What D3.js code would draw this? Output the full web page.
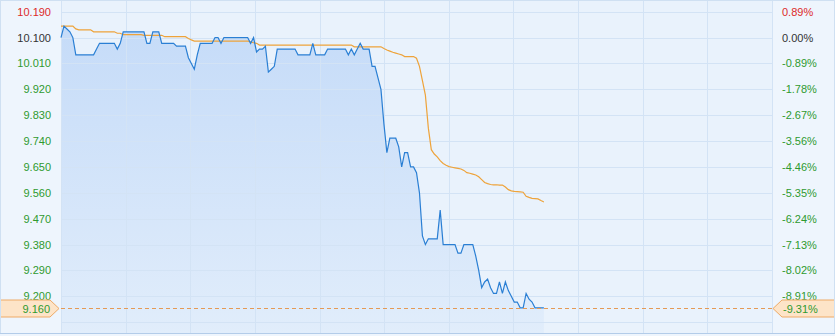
<!DOCTYPE html>
<html>
<head>
<meta charset="utf-8">
<script src="https://cdn.jsdelivr.net/npm/d3@7"></script>
<style>
    body { margin: 0; background: #eef5fd; }
    svg { display: block; font-family: "Liberation Sans", Arial, sans-serif; }
</style>
</head>
<body>
<svg id="chart" width="835" height="336"></svg>
<script>
// --- data ---
const preClose = 10.10;
const limitDown = 9.16;
const limitLabel = "9.160";
const limitPctLabel = "-9.31%";
const totalMinutes = 240;

const priceTicks = [10.19, 10.10, 10.01, 9.92, 9.83, 9.74, 9.65, 9.56, 9.47, 9.38, 9.29, 9.20];
const priceLabels = ["10.190", "10.100", "10.010", "9.920", "9.830", "9.740", "9.650", "9.560", "9.470", "9.380", "9.290", "9.200"];
const pctLabels = ["0.89%", "0.00%", "-0.89%", "-1.78%", "-2.67%", "-3.56%", "-4.46%", "-5.35%", "-6.24%", "-7.13%", "-8.02%", "-8.91%"];
const priceMin = 9.11;

// minute prices
const prices = [
    10.10, 10.14, 10.13, 10.12, 10.10, 10.04, 10.04, 10.04, 10.04, 10.04,
    10.04, 10.04, 10.06, 10.08, 10.08, 10.08, 10.08, 10.08, 10.08, 10.06,
    10.08, 10.12, 10.12, 10.12, 10.12, 10.12, 10.12, 10.12, 10.12, 10.08,
    10.08, 10.12, 10.12, 10.12, 10.08, 10.08, 10.08, 10.08, 10.08, 10.07,
    10.07, 10.07, 10.07, 10.03, 10.01, 9.99, 10.04, 10.08, 10.08, 10.08,
    10.08, 10.08, 10.10, 10.10, 10.08, 10.10, 10.10, 10.10, 10.10, 10.10,
    10.10, 10.10, 10.10, 10.10, 10.08, 10.10, 10.05, 10.06, 10.06, 10.07,
    9.98, 9.99, 10.00, 10.06, 10.06, 10.06, 10.06, 10.06, 10.06, 10.06,
    10.04, 10.04, 10.04, 10.04, 10.04, 10.08, 10.04, 10.04, 10.04, 10.04,
    10.06, 10.06, 10.06, 10.06, 10.06, 10.06, 10.06, 10.04, 10.06, 10.04,
    10.06, 10.08, 10.06, 10.06, 10.06, 10.00, 10.00, 9.96, 9.92, 9.80,
    9.70, 9.75, 9.75, 9.75, 9.72, 9.65, 9.70, 9.70, 9.65, 9.65,
    9.63, 9.56, 9.41, 9.38, 9.40, 9.40, 9.40, 9.40, 9.50, 9.38,
    9.38, 9.38, 9.38, 9.38, 9.35, 9.35, 9.38, 9.38, 9.38, 9.38,
    9.34, 9.29, 9.23, 9.25, 9.26, 9.23, 9.21, 9.21, 9.25, 9.21,
    9.25, 9.22, 9.20, 9.18, 9.18, 9.16, 9.16, 9.21, 9.19, 9.18,
    9.16, 9.16, 9.16, 9.16
];

// average price line
const avgPrices = [
    10.14, 10.14, 10.14, 10.14, 10.14, 10.13, 10.127, 10.127, 10.127, 10.127,
    10.127, 10.12, 10.12, 10.12, 10.12, 10.12, 10.12, 10.12, 10.12, 10.115,
    10.115, 10.11, 10.11, 10.11, 10.11, 10.11, 10.11, 10.11, 10.108, 10.108,
    10.108, 10.108, 10.108, 10.108, 10.108, 10.103, 10.103, 10.103, 10.103, 10.103,
    10.103, 10.103, 10.103, 10.097, 10.092, 10.088, 10.088, 10.088, 10.088, 10.088,
    10.088, 10.088, 10.088, 10.088, 10.088, 10.088, 10.088, 10.088, 10.088, 10.088,
    10.088, 10.088, 10.088, 10.088, 10.085, 10.082, 10.080, 10.074, 10.074, 10.074,
    10.074, 10.074, 10.074, 10.074, 10.074, 10.074, 10.074, 10.074, 10.074, 10.074,
    10.074, 10.074, 10.074, 10.074, 10.074, 10.074, 10.074, 10.074, 10.074, 10.074,
    10.074, 10.074, 10.074, 10.074, 10.074, 10.074, 10.074, 10.074, 10.074, 10.068,
    10.068, 10.068, 10.068, 10.068, 10.068, 10.068, 10.068, 10.068, 10.068, 10.062,
    10.057, 10.053, 10.049, 10.046, 10.043, 10.040, 10.034, 10.034, 10.034, 10.034,
    10.028, 10.000, 9.950, 9.900, 9.785, 9.710, 9.695, 9.685, 9.672, 9.662,
    9.656, 9.651, 9.649, 9.647, 9.645, 9.643, 9.638, 9.630, 9.628, 9.625,
    9.622, 9.616, 9.606, 9.596, 9.592, 9.589, 9.588, 9.588, 9.587, 9.587,
    9.580, 9.571, 9.567, 9.565, 9.564, 9.563, 9.562, 9.548, 9.544, 9.541,
    9.540, 9.539, 9.533, 9.528
];

// --- layout ---
const W = 835, H = 336;
const plot = { left: 61, right: 772, top: 0, bottom: 334 };
const vDivisions = 11;

const svg = d3.select('#chart');

const x = d3.scaleLinear().domain([0, totalMinutes]).range([plot.left, plot.right]);
const y = d3.scaleLinear().domain([priceMin, priceTicks[0]]).range([322.2, 11.7]);

function labelColor(v) {
    if (v > preClose + 1e-9) return '#dd2a2a';
    if (Math.abs(v - preClose) < 1e-9) return '#333333';
    return '#2f9a2f';
}

// gradient for the area
const defs = svg.append('defs');
const grad = defs.append('linearGradient')
    .attr('id', 'areaGrad')
    .attr('gradientUnits', 'userSpaceOnUse')
    .attr('x1', 0).attr('y1', plot.top).attr('x2', 0).attr('y2', plot.bottom);
grad.append('stop').attr('offset', '0%').attr('stop-color', '#c3daf8');
grad.append('stop').attr('offset', '100%').attr('stop-color', '#e1edfb');

// plot background
svg.append('rect')
    .attr('x', plot.left).attr('y', plot.top)
    .attr('width', plot.right - plot.left).attr('height', plot.bottom - plot.top)
    .attr('fill', '#e9f2fc');

// area under the price line
const area = d3.area()
    .x((d, i) => x(i))
    .y0(plot.bottom)
    .y1(d => y(d));

svg.append('path')
    .datum(prices)
    .attr('d', area)
    .attr('fill', 'url(#areaGrad)');

// grid lines
const gridLevels = priceTicks.concat([priceMin]);
svg.append('g')
    .selectAll('line')
    .data(gridLevels)
    .join('line')
    .attr('x1', plot.left).attr('x2', plot.right)
    .attr('y1', d => Math.round(y(d)) + 0.5)
    .attr('y2', d => Math.round(y(d)) + 0.5)
    .attr('stroke', '#d3e3f5')
    .attr('stroke-width', 1);

const xGrid = d3.scaleLinear().domain([0, vDivisions]).range([plot.left, plot.right]);
svg.append('g')
    .selectAll('line')
    .data(d3.range(vDivisions + 1))
    .join('line')
    .attr('x1', d => Math.round(xGrid(d)) + 0.5)
    .attr('x2', d => Math.round(xGrid(d)) + 0.5)
    .attr('y1', plot.top).attr('y2', plot.bottom)
    .attr('stroke', '#d3e3f5')
    .attr('stroke-width', 1);

// average line
const line = d3.line()
    .x((d, i) => x(i))
    .y(d => y(d));

svg.append('path')
    .datum(avgPrices)
    .attr('d', line)
    .attr('fill', 'none')
    .attr('stroke', '#eea33a')
    .attr('stroke-width', 1.2);

// price line
svg.append('path')
    .datum(prices)
    .attr('d', line)
    .attr('fill', 'none')
    .attr('stroke', '#2a7fd4')
    .attr('stroke-width', 1.2);

// axes (labels only)
const leftAxis = d3.axisLeft(y)
    .tickValues(priceTicks)
    .tickSize(0)
    .tickPadding(0)
    .tickFormat((d, i) => priceLabels[i]);

const gl = svg.append('g')
    .attr('transform', 'translate(51,0)')
    .call(leftAxis);
gl.select('.domain').remove();
gl.selectAll('text')
    .attr('font-size', 11)
    .attr('font-family', '"Liberation Sans", Arial, sans-serif')
    .attr('fill', d => labelColor(d));

const rightAxis = d3.axisRight(y)
    .tickValues(priceTicks)
    .tickSize(0)
    .tickPadding(0)
    .tickFormat((d, i) => pctLabels[i]);

const gr = svg.append('g')
    .attr('transform', 'translate(782,0)')
    .call(rightAxis);
gr.select('.domain').remove();
gr.selectAll('text')
    .attr('font-size', 11)
    .attr('font-family', '"Liberation Sans", Arial, sans-serif')
    .attr('fill', d => labelColor(d));

// limit-down dashed line and markers
const yl = Math.round(y(limitDown)) + 0.5;
svg.append('line')
    .attr('x1', plot.left).attr('x2', plot.right + 1)
    .attr('y1', yl).attr('y2', yl)
    .attr('stroke', '#e59a55')
    .attr('stroke-dasharray', '4,3');

const mh = 8.5;
svg.append('path')
    .attr('d', `M-1,${yl - mh} L50,${yl - mh} L59,${yl} L50,${yl + mh} L-1,${yl + mh} Z`)
    .attr('fill', '#fde4c8')
    .attr('stroke', '#eeaa66');
svg.append('text')
    .attr('x', 50).attr('y', yl)
    .attr('text-anchor', 'end')
    .attr('dominant-baseline', 'central')
    .attr('font-size', 11)
    .attr('fill', '#2f9a2f')
    .text(limitLabel);

svg.append('path')
    .attr('d', `M${W + 1},${yl - mh} L782,${yl - mh} L773,${yl} L782,${yl + mh} L${W + 1},${yl + mh} Z`)
    .attr('fill', '#fde4c8')
    .attr('stroke', '#eeaa66');
svg.append('text')
    .attr('x', 783).attr('y', yl)
    .attr('dominant-baseline', 'central')
    .attr('font-size', 11)
    .attr('fill', '#2f9a2f')
    .text(limitPctLabel);

// outer frame
svg.append('rect')
    .attr('x', 0.5).attr('y', 0.5)
    .attr('width', W - 1).attr('height', plot.bottom - 1)
    .attr('fill', 'none')
    .attr('stroke', '#cfe0f2');
svg.append('line')
    .attr('x1', 0).attr('x2', W)
    .attr('y1', plot.bottom - 0.5).attr('y2', plot.bottom - 0.5)
    .attr('stroke', '#b3cce9');
</script>
</body>
</html>
